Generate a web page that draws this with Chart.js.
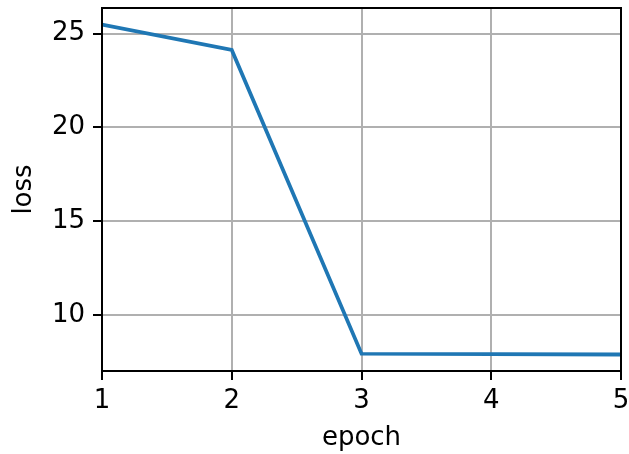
<!DOCTYPE html>
<html><head><meta charset="utf-8">
<script src="https://cdn.jsdelivr.net/npm/chart.js@4"></script>
<style>html,body{margin:0;padding:0;background:#fff}#wrap{width:629px;height:454px}</style>
</head><body><div id="wrap"><canvas id="c" width="629" height="454"></canvas></div>
<script>
const epochs = [1, 2, 3, 4, 5];
const loss = [25.48, 24.12, 7.92, 7.90, 7.88];
const yTicks = [10, 15, 20, 25];
const xTicks = [1, 2, 3, 4, 5];

const lo = Math.min(...loss), hi = Math.max(...loss), m = (hi - lo) * 0.05;
const FONT = {family: 'DejaVu Sans', size: 26};

const frame = {
  id: 'frame',
  afterDraw(chart) {
    const {ctx, chartArea: a} = chart;
    ctx.save();
    ctx.strokeStyle = '#000';
    ctx.lineWidth = 2;
    ctx.strokeRect(a.left, a.top, a.right - a.left, a.bottom - a.top);
    ctx.restore();
  }
};

function noPad(s) {
  s.paddingTop = 0; s.paddingBottom = 0; s.paddingLeft = 0; s.paddingRight = 0;
}

new Chart(document.getElementById('c'), {
  type: 'line',
  data: {
    datasets: [{
      data: epochs.map((e, i) => ({x: e, y: loss[i]})),
      borderColor: '#1f77b4',
      borderWidth: 3.75,
      pointRadius: 0,
      tension: 0,
      fill: false
    }]
  },
  options: {
    responsive: false,
    animation: false,
    devicePixelRatio: 1,
    layout: {padding: {left: 0, right: 8, top: 8, bottom: 0}},
    plugins: {legend: {display: false}, tooltip: {enabled: false}},
    scales: {
      x: {
        type: 'linear', min: 1, max: 5,
        afterBuildTicks: s => { s.ticks = xTicks.map(v => ({value: v})); },
        afterFit: s => { s.height = 83; noPad(s); },
        grid: {color: '#b0b0b0', lineWidth: 2, tickColor: '#000', tickLength: 9, tickWidth: 2},
        border: {color: '#000', width: 2},
        ticks: {color: '#000', font: FONT, padding: 6, maxRotation: 0},
        title: {display: true, text: 'epoch', color: '#000', font: FONT, padding: {top: 0, bottom: 0}}
      },
      y: {
        type: 'linear', min: lo - m, max: hi + m,
        afterBuildTicks: s => { s.ticks = yTicks.map(v => ({value: v})); },
        afterFit: s => { s.width = 102; noPad(s); },
        grid: {color: '#b0b0b0', lineWidth: 2, tickColor: '#000', tickLength: 9, tickWidth: 2},
        border: {color: '#000', width: 2},
        ticks: {color: '#000', font: FONT, padding: 8},
        title: {display: true, text: 'loss', color: '#000', font: FONT, padding: {top: 9, bottom: 0}}
      }
    }
  },
  plugins: [frame]
});
</script></body></html>
